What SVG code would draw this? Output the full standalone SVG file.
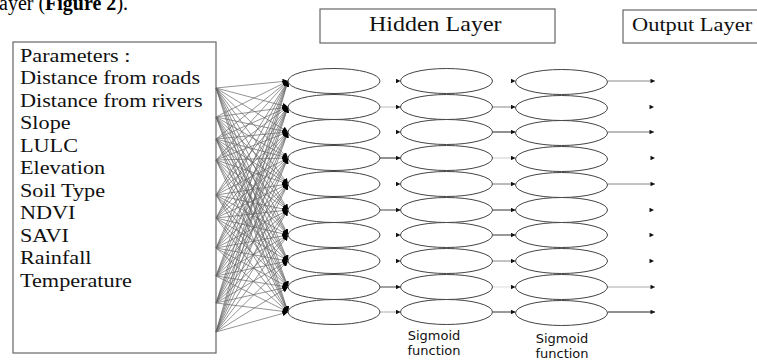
<svg xmlns="http://www.w3.org/2000/svg" width="757" height="361" viewBox="0 0 757 361">
<defs>
<marker id="a" viewBox="0 0 6 6" refX="6" refY="3" markerWidth="5.5" markerHeight="5.5" markerUnits="userSpaceOnUse" orient="auto"><path d="M0,0 L6,3 L0,6 z" fill="#000"/></marker>
<marker id="s" viewBox="0 0 6 6" refX="6" refY="3" markerWidth="5" markerHeight="4.5" markerUnits="userSpaceOnUse" orient="auto"><path d="M0,0 L6,3 L0,6 z" fill="#111"/></marker>
</defs>
<style>
.t{font-family:"Liberation Serif","Times New Roman",serif;font-size:19.5px;fill:#111}
.sg{font-family:"DejaVu Sans",Verdana,sans-serif;font-size:13px;fill:#111;text-anchor:middle}
.box{fill:#fff;stroke:#666;stroke-width:1.2}
.n{fill:#fff;stroke:#444;stroke-width:1}
.w{stroke:#666;stroke-width:0.7;fill:none;marker-end:url(#a)}
.h{stroke:none;fill:none;marker-end:url(#s)}
.c{stroke-width:1;fill:none;marker-end:url(#s)}
</style>
<rect width="757" height="361" fill="#fff"/>
<g id="caption">
<text x="-1" y="10" font-family="Liberation Serif,serif" font-size="20" fill="#000">ayer (<tspan font-weight="bold">Figure 2</tspan>).</text>
</g>
<g id="hidden-layer-label">
<rect class="box" x="320" y="9" width="235" height="34"/>
<text class="t" transform="translate(369,31) scale(1.2,1)" x="0" y="0" style="font-size:20px">Hidden Layer</text>
</g>
<g id="output-layer-label">
<rect class="box" x="623" y="10" width="140" height="33"/>
<text class="t" transform="translate(632,31) scale(1.15,1)" x="0" y="0">Output Layer</text>
</g>
<g id="parameters">
<rect class="box" x="13" y="42" width="203" height="311"/>
<g class="t" transform="translate(20,0) scale(1.14,1)">
<text x="0" y="62">Parameters :</text>
<text x="0" y="84.5">Distance from roads</text>
<text x="0" y="107">Distance from rivers</text>
<text x="0" y="129.5">Slope</text>
<text x="0" y="152">LULC</text>
<text x="0" y="174.5">Elevation</text>
<text x="0" y="197">Soil Type</text>
<text x="0" y="219.5">NDVI</text>
<text x="0" y="242">SAVI</text>
<text x="0" y="264.5">Rainfall</text>
<text x="0" y="287">Temperature</text>
</g>
</g>
<g id="connectors">
<line class="w" x1="216" y1="88" x2="288" y2="81"/><line class="w" x1="216" y1="88" x2="288" y2="107"/><line class="w" x1="216" y1="88" x2="288" y2="132"/><line class="w" x1="216" y1="88" x2="288" y2="158"/><line class="w" x1="216" y1="88" x2="288" y2="184"/><line class="w" x1="216" y1="88" x2="288" y2="210"/><line class="w" x1="216" y1="88" x2="288" y2="235"/><line class="w" x1="216" y1="88" x2="288" y2="261"/><line class="w" x1="216" y1="88" x2="288" y2="287"/><line class="w" x1="216" y1="88" x2="288" y2="312"/>
<line class="w" x1="216" y1="117" x2="288" y2="81"/><line class="w" x1="216" y1="117" x2="288" y2="107"/><line class="w" x1="216" y1="117" x2="288" y2="132"/><line class="w" x1="216" y1="117" x2="288" y2="158"/><line class="w" x1="216" y1="117" x2="288" y2="184"/><line class="w" x1="216" y1="117" x2="288" y2="210"/><line class="w" x1="216" y1="117" x2="288" y2="235"/><line class="w" x1="216" y1="117" x2="288" y2="261"/><line class="w" x1="216" y1="117" x2="288" y2="287"/><line class="w" x1="216" y1="117" x2="288" y2="312"/>
<line class="w" x1="216" y1="139" x2="288" y2="81"/><line class="w" x1="216" y1="139" x2="288" y2="107"/><line class="w" x1="216" y1="139" x2="288" y2="132"/><line class="w" x1="216" y1="139" x2="288" y2="158"/><line class="w" x1="216" y1="139" x2="288" y2="184"/><line class="w" x1="216" y1="139" x2="288" y2="210"/><line class="w" x1="216" y1="139" x2="288" y2="235"/><line class="w" x1="216" y1="139" x2="288" y2="261"/><line class="w" x1="216" y1="139" x2="288" y2="287"/><line class="w" x1="216" y1="139" x2="288" y2="312"/>
<line class="w" x1="216" y1="160" x2="288" y2="81"/><line class="w" x1="216" y1="160" x2="288" y2="107"/><line class="w" x1="216" y1="160" x2="288" y2="132"/><line class="w" x1="216" y1="160" x2="288" y2="158"/><line class="w" x1="216" y1="160" x2="288" y2="184"/><line class="w" x1="216" y1="160" x2="288" y2="210"/><line class="w" x1="216" y1="160" x2="288" y2="235"/><line class="w" x1="216" y1="160" x2="288" y2="261"/><line class="w" x1="216" y1="160" x2="288" y2="287"/><line class="w" x1="216" y1="160" x2="288" y2="312"/>
<line class="w" x1="216" y1="195" x2="288" y2="81"/><line class="w" x1="216" y1="195" x2="288" y2="107"/><line class="w" x1="216" y1="195" x2="288" y2="132"/><line class="w" x1="216" y1="195" x2="288" y2="158"/><line class="w" x1="216" y1="195" x2="288" y2="184"/><line class="w" x1="216" y1="195" x2="288" y2="210"/><line class="w" x1="216" y1="195" x2="288" y2="235"/><line class="w" x1="216" y1="195" x2="288" y2="261"/><line class="w" x1="216" y1="195" x2="288" y2="287"/><line class="w" x1="216" y1="195" x2="288" y2="312"/>
<line class="w" x1="216" y1="218" x2="288" y2="81"/><line class="w" x1="216" y1="218" x2="288" y2="107"/><line class="w" x1="216" y1="218" x2="288" y2="132"/><line class="w" x1="216" y1="218" x2="288" y2="158"/><line class="w" x1="216" y1="218" x2="288" y2="184"/><line class="w" x1="216" y1="218" x2="288" y2="210"/><line class="w" x1="216" y1="218" x2="288" y2="235"/><line class="w" x1="216" y1="218" x2="288" y2="261"/><line class="w" x1="216" y1="218" x2="288" y2="287"/><line class="w" x1="216" y1="218" x2="288" y2="312"/>
<line class="w" x1="216" y1="248" x2="288" y2="81"/><line class="w" x1="216" y1="248" x2="288" y2="107"/><line class="w" x1="216" y1="248" x2="288" y2="132"/><line class="w" x1="216" y1="248" x2="288" y2="158"/><line class="w" x1="216" y1="248" x2="288" y2="184"/><line class="w" x1="216" y1="248" x2="288" y2="210"/><line class="w" x1="216" y1="248" x2="288" y2="235"/><line class="w" x1="216" y1="248" x2="288" y2="261"/><line class="w" x1="216" y1="248" x2="288" y2="287"/><line class="w" x1="216" y1="248" x2="288" y2="312"/>
<line class="w" x1="216" y1="276" x2="288" y2="81"/><line class="w" x1="216" y1="276" x2="288" y2="107"/><line class="w" x1="216" y1="276" x2="288" y2="132"/><line class="w" x1="216" y1="276" x2="288" y2="158"/><line class="w" x1="216" y1="276" x2="288" y2="184"/><line class="w" x1="216" y1="276" x2="288" y2="210"/><line class="w" x1="216" y1="276" x2="288" y2="235"/><line class="w" x1="216" y1="276" x2="288" y2="261"/><line class="w" x1="216" y1="276" x2="288" y2="287"/><line class="w" x1="216" y1="276" x2="288" y2="312"/>
<line class="w" x1="216" y1="303" x2="288" y2="81"/><line class="w" x1="216" y1="303" x2="288" y2="107"/><line class="w" x1="216" y1="303" x2="288" y2="132"/><line class="w" x1="216" y1="303" x2="288" y2="158"/><line class="w" x1="216" y1="303" x2="288" y2="184"/><line class="w" x1="216" y1="303" x2="288" y2="210"/><line class="w" x1="216" y1="303" x2="288" y2="235"/><line class="w" x1="216" y1="303" x2="288" y2="261"/><line class="w" x1="216" y1="303" x2="288" y2="287"/><line class="w" x1="216" y1="303" x2="288" y2="312"/>
<line class="w" x1="216" y1="332" x2="288" y2="81"/><line class="w" x1="216" y1="332" x2="288" y2="107"/><line class="w" x1="216" y1="332" x2="288" y2="132"/><line class="w" x1="216" y1="332" x2="288" y2="158"/><line class="w" x1="216" y1="332" x2="288" y2="184"/><line class="w" x1="216" y1="332" x2="288" y2="210"/><line class="w" x1="216" y1="332" x2="288" y2="235"/><line class="w" x1="216" y1="332" x2="288" y2="261"/><line class="w" x1="216" y1="332" x2="288" y2="287"/><line class="w" x1="216" y1="332" x2="288" y2="312"/>
<!-- layer 1 to layer 2 -->
<path class="h" d="M396 81 L400.5 81"/>
<path class="c" stroke="#bbb" d="M380 107 L400.5 107"/>
<path class="h" d="M396 132 L400.5 132"/>
<path class="c" stroke="#222" d="M380 158 L400.5 158"/>
<path class="h" d="M396 184 L400.5 184"/>
<path class="c" stroke="#444" d="M380 210 L400.5 210"/>
<path class="h" d="M396 235 L400.5 235"/>
<path class="h" d="M396 261 L400.5 261"/>
<path class="c" stroke="#444" d="M380 287 L400.5 287"/>
<path class="c" stroke="#aaa" d="M380 312 L400.5 312"/>
<!-- layer 2 to layer 3 -->
<path class="h" d="M511 81 L515.5 81"/>
<path class="c" stroke="#888" d="M493 107 L515.5 107"/>
<path class="c" stroke="#222" d="M493 132 L515.5 132"/>
<path class="c" stroke="#ccc" d="M493 158 L515.5 158"/>
<path class="c" stroke="#777" d="M493 184 L515.5 184"/>
<path class="c" stroke="#333" d="M493 210 L515.5 210"/>
<path class="c" stroke="#333" d="M493 235 L515.5 235"/>
<path class="c" stroke="#888" d="M493 261 L515.5 261"/>
<path class="c" stroke="#ddd" d="M493 287 L515.5 287"/>
<path class="c" stroke="#333" d="M493 312 L515.5 312"/>
<!-- outputs -->
<path class="c" stroke="#888" d="M608 81 L655 81"/>
<path class="h" d="M650 107 L654 107"/>
<path class="c" stroke="#777" d="M608 132 L654 132"/>
<path class="h" d="M651 158 L655 158"/>
<path class="c" stroke="#888" d="M608 184 L655 184"/>
<path class="h" d="M650 210 L654 210"/>
<path class="h" d="M650 235 L654 235"/>
<path class="h" d="M650 261 L654 261"/>
<path class="c" stroke="#aaa" d="M608 287 L655 287"/>
<path class="c" stroke="#222" d="M608 312 L655 312"/>
</g>
<g id="hidden-layer-1">
<ellipse class="n" cx="334" cy="81" rx="46" ry="12.5"/><ellipse class="n" cx="334" cy="107" rx="46" ry="12.5"/><ellipse class="n" cx="334" cy="132" rx="46" ry="12.5"/><ellipse class="n" cx="334" cy="158" rx="46" ry="12.5"/><ellipse class="n" cx="334" cy="184" rx="46" ry="12.5"/><ellipse class="n" cx="334" cy="210" rx="46" ry="12.5"/><ellipse class="n" cx="334" cy="235" rx="46" ry="12.5"/><ellipse class="n" cx="334" cy="261" rx="46" ry="12.5"/><ellipse class="n" cx="334" cy="287" rx="46" ry="12.5"/><ellipse class="n" cx="334" cy="312" rx="46" ry="12.5"/>
</g>
<g id="hidden-layer-2">
<ellipse class="n" cx="446.5" cy="81" rx="46" ry="12.5"/><ellipse class="n" cx="446.5" cy="107" rx="46" ry="12.5"/><ellipse class="n" cx="446.5" cy="132" rx="46" ry="12.5"/><ellipse class="n" cx="446.5" cy="158" rx="46" ry="12.5"/><ellipse class="n" cx="446.5" cy="184" rx="46" ry="12.5"/><ellipse class="n" cx="446.5" cy="210" rx="46" ry="12.5"/><ellipse class="n" cx="446.5" cy="235" rx="46" ry="12.5"/><ellipse class="n" cx="446.5" cy="261" rx="46" ry="12.5"/><ellipse class="n" cx="446.5" cy="287" rx="46" ry="12.5"/><ellipse class="n" cx="446.5" cy="312" rx="46" ry="12.5"/>
<text class="sg" x="434" y="340">Sigmoid</text>
<text class="sg" x="434" y="355">function</text>
</g>
<g id="hidden-layer-3">
<ellipse class="n" cx="561.5" cy="82" rx="46" ry="12.5"/><ellipse class="n" cx="561.5" cy="108" rx="46" ry="12.5"/><ellipse class="n" cx="561.5" cy="133" rx="46" ry="12.5"/><ellipse class="n" cx="561.5" cy="159" rx="46" ry="12.5"/><ellipse class="n" cx="561.5" cy="185" rx="46" ry="12.5"/><ellipse class="n" cx="561.5" cy="210" rx="46" ry="12.5"/><ellipse class="n" cx="561.5" cy="235" rx="46" ry="12.5"/><ellipse class="n" cx="561.5" cy="261" rx="46" ry="12.5"/><ellipse class="n" cx="561.5" cy="287" rx="46" ry="12.5"/><ellipse class="n" cx="561.5" cy="313" rx="46" ry="12.5"/>
<text class="sg" x="562" y="343">Sigmoid</text>
<text class="sg" x="562" y="358">function</text>
</g>
</svg>
